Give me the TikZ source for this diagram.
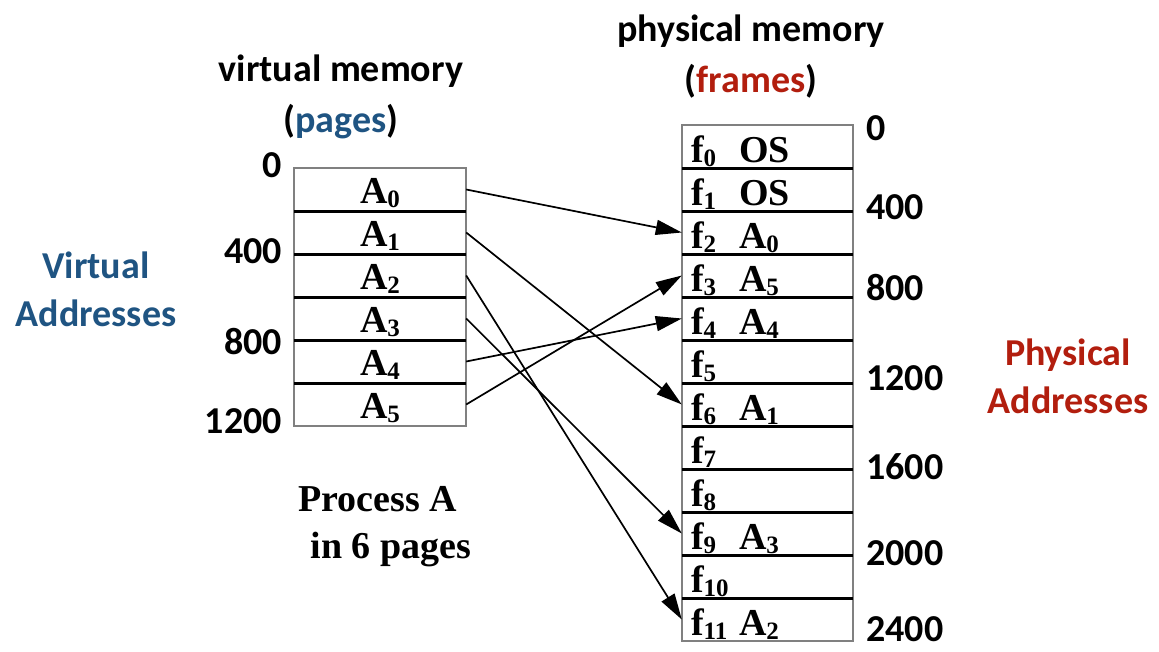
\documentclass[tikz,border=0pt]{standalone}
\usepackage{fontspec}
\setmainfont{Carlito}
\newfontfamily\tnr{Liberation Serif}
\usetikzlibrary{arrows.meta}
\definecolor{pageblue}{RGB}{31,84,130}
\definecolor{framered}{RGB}{178,30,14}
\newcommand{\idx}[1]{\raisebox{-4pt}{\fontsize{25}{25}\selectfont #1}}
\newcommand{\frow}[2]{\makebox[48pt][l]{f\idx{#1}}#2}

\begin{document}
\begin{tikzpicture}[x=1pt, y=-1pt,
    big/.style={inner sep=0pt, font=\bfseries\fontsize{38}{48}\selectfont},
    vcell/.style={minimum width=172pt, minimum height=43pt, inner sep=0pt,
        font=\tnr\bfseries\fontsize{38}{40}\selectfont, text height=30pt, text depth=3pt},
    fcell/.style={minimum width=171pt, minimum height=43pt, inner xsep=9pt, inner ysep=0pt,
        text width=153pt, align=left, font=\tnr\bfseries\fontsize{38}{40}\selectfont,
        text height=34pt, text depth=2pt},
    map/.style={-{Triangle[length=26pt,width=15pt]}, line width=1.7pt},
    sep/.style={line width=3pt},
    boxline/.style={draw=gray, line width=1.2pt}]
    \useasboundingbox (0,0) rectangle (1159,651);

    \node[big, align=center, font=\bfseries\fontsize{38}{51}\selectfont] (vmem) at (341,97) {virtual memory\\(\textcolor{pageblue}{pages})};
    \node[big, align=center, font=\bfseries\fontsize{38}{51}\selectfont] (pmem) at (751,57) {physical memory\\(\textcolor{framered}{frames})};
    \node[big, align=center, text=pageblue] (vaddr) at (96,289) {Virtual\\Addresses};
    \node[big, align=center, text=framered] (paddr) at (1068,376) {Physical\\Addresses};

    \draw[boxline] (294,168) rectangle (466,426);
    \foreach \k in {1,...,5}
        \draw[sep] (294,168+43*\k) -- (466,168+43*\k);
    \foreach \i in {0,...,5}
        \node[vcell] (A\i) at (380,189.5+43*\i) {A\idx{\i}};

    \draw[boxline] (682,125) rectangle (853,641);
    \foreach \k in {1,...,11}
        \draw[sep] (682,125+43*\k) -- (853,125+43*\k);
    \foreach \k/\pg in {0/OS, 1/OS, 2/{A\idx{0}}, 3/{A\idx{5}}, 4/{A\idx{4}}, 5/{},
                        6/{A\idx{1}}, 7/{}, 8/{}, 9/{A\idx{3}}, 10/{}, 11/{A\idx{2}}}
        \node[fcell] (f\k) at (767.5,146.5+43*\k) {\frow{\k}{\pg}};

    \foreach \a/\f in {0/2, 1/6, 2/11, 3/9, 4/4, 5/3}
        \draw[map] (A\a.east) -- (f\f.west);

    \foreach \t/\y in {0/165, 400/251, 800/342, 1200/421}
        \node[big, anchor=east] (v\t) at (282,\y) {\t};
    \foreach \t/\y in {0/128, 400/207, 800/288, 1200/378, 1600/467, 2000/553, 2400/629}
        \node[big, anchor=west] (p\t) at (866,\y) {\t};

    \node[anchor=north west, align=left, font=\tnr\bfseries\fontsize{38}{47}\selectfont] (proc) at (295,483)
        {Process A\\\hspace*{12pt}in 6 pages};
\end{tikzpicture}
\end{document}
